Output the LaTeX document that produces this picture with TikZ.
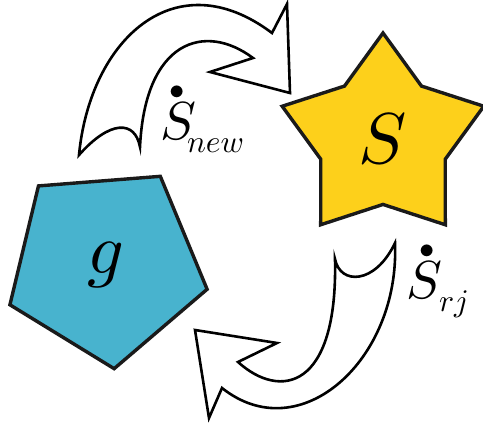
\documentclass[tikz,border=0pt]{standalone}
\usepackage{amsmath}
\usepackage{graphicx}
\usepackage{xcolor}
\usepackage{tikz}
\usetikzlibrary{shapes.geometric}
\definecolor{gblue}{HTML}{48B3CE}
\definecolor{sgold}{HTML}{FDD01B}
\definecolor{edgegray}{HTML}{1A1A1A}
% big dotted S with a small subscript
\newcommand{\bigrate}[3]{\makebox[0pt][l]{\hspace{#3}\raisebox{40pt}{\scalebox{3.06}{$\bullet$}}}%
  \scalebox{5.35}{$S$}\hspace{#2}\raisebox{-13pt}{\scalebox{3.15}{$#1$}}}

\begin{document}
\begin{tikzpicture}[
    x=1pt, y=-1pt,
    shapenode/.style={draw=edgegray, line width=3.4pt, inner sep=0pt, line join=miter},
    cyclearrow/.style={draw=black, fill=white, line width=2.6pt, line join=miter},
    ratelabel/.style={anchor=base west, inner sep=0pt}
]
\useasboundingbox (0,0) rectangle (483,425);

% Star: stock S
\node[shapenode, star, star points=5, star point ratio=1.62, minimum size=212pt,
      fill=sgold] (stock) at (383,139) {\scalebox{7.2}{$S$}};

% Pentagon: g
\node[shapenode, regular polygon, regular polygon sides=5, shape border rotate=40.5,
      minimum size=208pt, fill=gblue] (gpent) at (106,265) {\raisebox{4pt}{\scalebox{7.2}{$g$}}};

% Upper arrow (into S)
\draw[cyclearrow] (79,155) .. controls (90,40) and (175,-40) .. (272,33)
    -- (287,4) -- (290,93) -- (210,72) -- (253,58)
    .. controls (205,22) and (145,40) .. (140,147)
    .. controls (135,120) and (110,120) .. (79,155) -- cycle;

% Lower arrow (out of S)
\draw[cyclearrow] (395,243) .. controls (400,360) and (300,450) .. (222,388)
    -- (209,418) -- (195,330) -- (277,343) -- (238,362)
    .. controls (280,400) and (338,390) .. (335,259)
    .. controls (340,285) and (375,285) .. (395,243) -- cycle;

% Rate labels
\node[ratelabel] (snew) at (160,140) {\bigrate{new}{-9pt}{9pt}};
\node[ratelabel] (srj) at (406,299) {\bigrate{rj}{-3pt}{13pt}};

\end{tikzpicture}
\end{document}
